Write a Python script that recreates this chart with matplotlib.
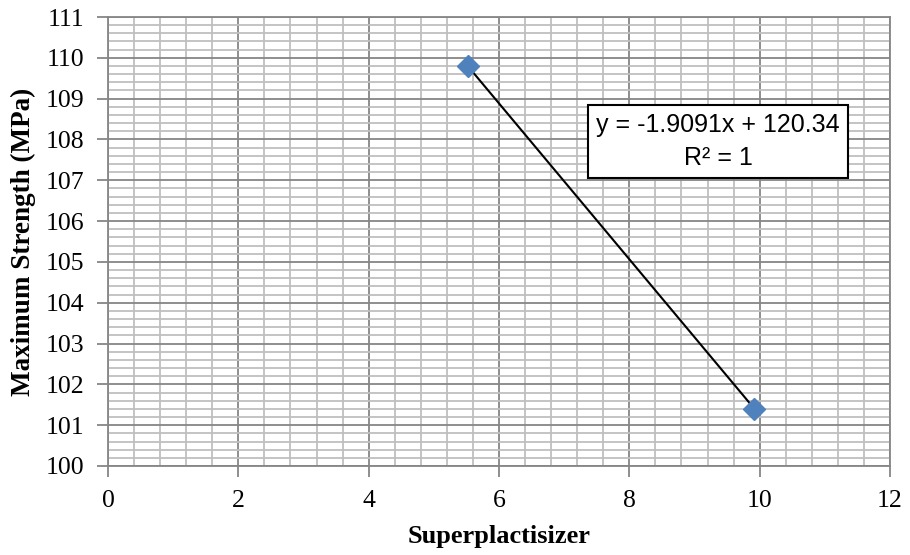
import matplotlib
matplotlib.use("Agg")
import matplotlib.pyplot as plt
import numpy as np
from matplotlib.ticker import MultipleLocator

plt.rcParams["font.family"] = "Liberation Serif"

# measured points
superplasticizer = [5.52, 9.92]
max_strength = [109.8, 101.4]

x_ticks = [0, 2, 4, 6, 8, 10, 12]
y_ticks = [100, 101, 102, 103, 104, 105, 106, 107, 108, 109, 110, 111]

MAJOR_GRID = "#868686"
MINOR_GRID = "#bfbfbf"
MARKER_BLUE = "#4f81bd"

fig = plt.figure(figsize=(9.1, 5.55), dpi=100)
ax = fig.add_axes([108 / 910, 1 - 466 / 555, (890 - 108) / 910, (466 - 17) / 555])

ax.set_xlim(0, 12)
ax.set_ylim(100, 111)
ax.set_xticks(x_ticks)
ax.set_yticks(y_ticks)
ax.xaxis.set_minor_locator(MultipleLocator(0.4))
ax.yaxis.set_minor_locator(MultipleLocator(0.2))

ax.grid(which="minor", color=MINOR_GRID, linewidth=1.3)
ax.grid(which="major", color=MAJOR_GRID, linewidth=1.3)
ax.set_axisbelow(True)

for side in ax.spines.values():
    side.set_color(MAJOR_GRID)
    side.set_linewidth(1.3)

ax.tick_params(which="major", direction="out", length=8, width=1.3, color=MAJOR_GRID,
               labelsize=18.5, pad=9)
ax.tick_params(which="minor", length=0)

# linear trendline through the data
slope, intercept = np.polyfit(superplasticizer, max_strength, 1)
xs = np.array([min(superplasticizer), max(superplasticizer)])
ax.plot(xs, slope * xs + intercept, color="black", linewidth=1.5, zorder=3)

ax.plot(superplasticizer, max_strength, linestyle="none", marker="D", markersize=11,
        color=MARKER_BLUE, markeredgecolor=MARKER_BLUE, zorder=4)

r2 = np.corrcoef(superplasticizer, max_strength)[0, 1] ** 2
eq_text = f"y = {slope:.4f}x + {intercept:.2f}\nR\u00b2 = {r2:.0f}"
ax.text(9.36, 107.95, eq_text, ha="center", va="center", fontsize=18,
        family="Liberation Sans", linespacing=1.45, zorder=5,
        bbox=dict(boxstyle="square,pad=0.34", facecolor="white",
                  edgecolor="black", linewidth=1.5))

ax.set_xlabel("Superplactisizer", fontsize=19, fontweight="bold", labelpad=10)
ax.set_ylabel("Maximum Strength (MPa)", fontsize=19.5, fontweight="bold", labelpad=7)

fig.savefig("out.png", dpi=100)
